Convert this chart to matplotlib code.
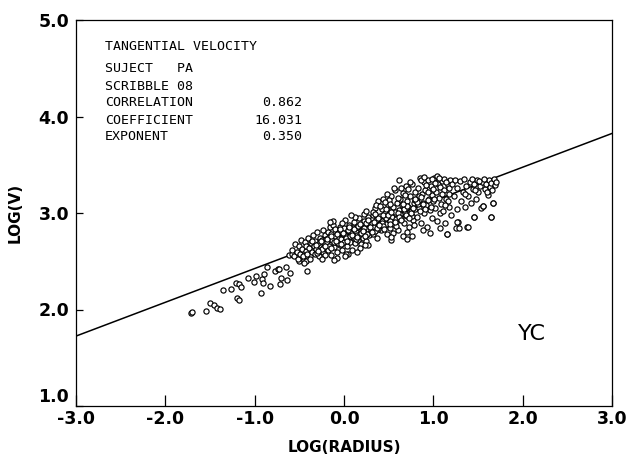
import matplotlib
matplotlib.use("Agg")
import matplotlib.pyplot as plt
import numpy as np

# ---- data ----
sparse_x = [-1.71, -1.70, -1.54, -1.50, -1.45, -1.42, -1.39, -1.36, -1.27, -1.21,
            -1.18, -1.15, -1.20, -1.18, -1.07, -1.01, -0.98, -0.92, -0.89, -0.86,
            -0.91, -0.93, -0.83, -0.77, -0.74, -0.73, -0.72, -0.70, -0.65, -0.64,
            -0.62, -0.61, -0.58, -0.51, -0.50, -0.49, -0.45, -0.41, -0.43, -0.38]
sparse_y = [1.96, 1.97, 1.98, 2.07, 2.05, 2.02, 2.01, 2.20, 2.21, 2.27,
            2.26, 2.23, 2.12, 2.10, 2.33, 2.28, 2.35, 2.32, 2.37, 2.44,
            2.27, 2.17, 2.24, 2.40, 2.42, 2.42, 2.26, 2.33, 2.44, 2.31,
            2.56, 2.38, 2.58, 2.55, 2.50, 2.58, 2.51, 2.40, 2.50, 2.55]

cluster_x = [
    -0.58, -0.56, -0.55, -0.53, -0.52, -0.50, -0.49, -0.48, -0.47, -0.46,
    -0.45, -0.44, -0.43, -0.42, -0.41, -0.40, -0.39, -0.38, -0.37, -0.36,
    -0.35, -0.34, -0.33, -0.32, -0.31, -0.30, -0.29, -0.28, -0.27, -0.26,
    -0.25, -0.24, -0.23, -0.22, -0.21, -0.21, -0.20, -0.24, -0.30, -0.36,
    -0.19, -0.18, -0.18, -0.17, -0.16, -0.15, -0.15, -0.14, -0.13, -0.12,
    -0.11, -0.10, -0.10, -0.09, -0.08, -0.07, -0.06, -0.05, -0.05, -0.04,
    -0.03, -0.02, -0.01, 0.00, 0.00, 0.01, 0.02, 0.03, 0.04, 0.05,
    0.06, 0.07, 0.08, 0.09, 0.10, 0.10, 0.11, 0.12, 0.13, 0.14,
    0.15, 0.16, 0.17, 0.18, 0.19, 0.20, 0.20, 0.21, 0.22, 0.23,
    0.24, 0.25, 0.26, 0.27, 0.28, 0.29, 0.30, 0.05, -0.08, 0.18,
    0.12, -0.02, 0.08, 0.22, 0.27, -0.12, 0.15, 0.02, -0.16, 0.25,
    0.31, 0.32, 0.33, 0.34, 0.35, 0.36, 0.37, 0.38, 0.39, 0.40,
    0.41, 0.42, 0.43, 0.44, 0.45, 0.46, 0.47, 0.48, 0.49, 0.50,
    0.51, 0.52, 0.53, 0.54, 0.55, 0.56, 0.57, 0.58, 0.59, 0.60,
    0.61, 0.62, 0.63, 0.64, 0.65, 0.66, 0.67, 0.68, 0.69, 0.70,
    0.71, 0.72, 0.73, 0.74, 0.75, 0.76, 0.77, 0.78, 0.79, 0.80,
    0.33, 0.38, 0.44, 0.48, 0.55, 0.60, 0.66, 0.72, 0.78, 0.53,
    0.36, 0.42, 0.50, 0.58, 0.64, 0.70, 0.76, 0.62, 0.46, 0.68,
    0.35, 0.40, 0.47, 0.52, 0.57, 0.63, 0.69, 0.74, 0.79, 0.56,
    0.81, 0.82, 0.83, 0.84, 0.85, 0.86, 0.87, 0.88, 0.89, 0.90,
    0.91, 0.92, 0.93, 0.94, 0.95, 0.96, 0.97, 0.98, 0.99, 1.00,
    1.01, 1.02, 1.03, 1.04, 1.05, 1.06, 1.07, 1.08, 1.09, 1.10,
    1.11, 1.12, 1.13, 1.14, 1.15, 1.16, 1.17, 1.18, 1.19, 1.20,
    0.84, 0.88, 0.92, 0.96, 1.00, 1.04, 1.08, 1.12, 1.16, 0.86,
    0.90, 0.94, 0.98, 1.02, 1.06, 1.10, 1.14, 1.18, 0.83, 1.13,
    1.21, 1.23, 1.24, 1.26, 1.27, 1.28, 1.30, 1.31, 1.33, 1.34,
    1.35, 1.37, 1.38, 1.39, 1.41, 1.42, 1.44, 1.45, 1.46, 1.48,
    1.49, 1.50, 1.52, 1.53, 1.55, 1.56, 1.58, 1.59, 1.61, 1.62,
    1.63, 1.64, 1.65, 1.66, 1.67, 1.68, 1.69, 1.70, 1.25, 1.36,
    1.43, 1.51, 1.57, 1.60, 1.47, 1.15, 1.27, 1.29, 1.39, 1.45,
    1.64, 1.56, 1.67, 0.53, 0.70, 0.76, 0.24, 0.01, -0.11, -0.25]
cluster_y = [
    2.62, 2.55, 2.68, 2.60, 2.52, 2.66, 2.58, 2.72, 2.63, 2.55,
    2.48, 2.70, 2.61, 2.66, 2.57, 2.74, 2.64, 2.52, 2.69, 2.60,
    2.77, 2.66, 2.58, 2.71, 2.63, 2.80, 2.68, 2.55, 2.74, 2.65,
    2.72, 2.82, 2.60, 2.69, 2.77, 2.56, 2.73, 2.64, 2.59, 2.71,
    2.70, 2.80, 2.62, 2.75, 2.85, 2.68, 2.56, 2.78, 2.72, 2.88,
    2.65, 2.76, 2.83, 2.70, 2.60, 2.79, 2.74, 2.86, 2.67, 2.81,
    2.73, 2.62, 2.78, 2.84, 2.70, 2.93, 2.76, 2.66, 2.81, 2.74,
    2.88, 2.70, 2.79, 2.62, 2.84, 2.75, 2.91, 2.69, 2.80, 2.77,
    2.85, 2.72, 2.95, 2.78, 2.68, 2.82, 2.88, 2.74, 2.92, 2.80,
    2.86, 2.71, 2.83, 2.96, 2.77, 2.89, 2.82, 2.57, 2.53, 2.64,
    2.96, 2.90, 2.98, 2.99, 2.67, 2.92, 2.60, 2.58, 2.91, 3.02,
    2.90, 2.78, 2.98, 2.85, 3.05, 2.93, 2.74, 3.12, 2.88, 2.97,
    2.82, 3.04, 2.92, 3.15, 2.86, 3.00, 2.95, 2.78, 3.08, 2.91,
    3.02, 2.84, 3.18, 2.96, 3.06, 2.89, 3.24, 2.99, 3.10, 2.93,
    2.82, 3.03, 3.14, 2.95, 3.08, 3.21, 2.90, 3.00, 3.28, 3.12,
    2.97, 3.06, 2.86, 3.18, 3.02, 3.30, 2.93, 3.10, 3.22, 3.04,
    3.01, 2.83, 2.98, 3.20, 2.79, 3.16, 2.76, 3.25, 2.88, 2.72,
    3.08, 2.88, 3.13, 2.87, 3.26, 2.80, 2.97, 3.34, 3.11, 3.19,
    2.81, 3.07, 2.89, 3.09, 3.01, 2.99, 3.05, 3.32, 3.13, 3.26,
    3.15, 2.96, 3.26, 3.05, 3.36, 2.90, 3.20, 3.10, 3.32, 3.00,
    3.24, 3.08, 2.86, 3.34, 3.14, 3.03, 3.28, 2.95, 3.19, 3.12,
    3.36, 3.05, 3.22, 2.92, 3.30, 3.16, 3.00, 3.27, 3.09, 3.33,
    3.02, 3.24, 2.90, 3.14, 2.78, 3.29, 3.06, 3.20, 3.34, 2.98,
    3.18, 2.82, 3.29, 2.79, 3.25, 3.38, 2.84, 3.35, 3.12, 3.34,
    3.37, 3.22, 3.35, 3.31, 3.36, 3.20, 3.32, 3.26, 3.09, 3.08,
    3.30, 3.18, 3.34, 3.04, 3.26, 2.91, 3.33, 3.12, 3.22, 3.35,
    3.06, 3.28, 2.85, 3.18, 3.32, 3.10, 3.25, 2.96, 3.30, 3.14,
    3.34, 3.22, 3.28, 3.05, 3.32, 3.07, 3.25, 3.30, 3.19, 3.34,
    3.27, 2.96, 3.31, 3.24, 3.10, 3.35, 3.29, 3.32, 2.84, 3.20,
    3.35, 3.33, 3.35, 3.22, 3.24, 2.78, 2.91, 2.84, 2.85, 2.96,
    2.96, 3.07, 3.10, 2.75, 2.73, 2.76, 2.67, 2.55, 2.51, 2.52]

core_x = [
    -0.31, -0.26, -0.25, -0.19, -0.17, -0.14, -0.11, -0.08, -0.07, -0.01,
    0.02, 0.04, 0.07, 0.11, 0.13, 0.16, 0.19, 0.22, 0.25, 0.26,
    0.29, 0.34, 0.37, 0.38, 0.43, 0.44, 0.49, 0.52, 0.53, 0.58,
    0.61, 0.62, 0.67, 0.69, 0.71, 0.75, 0.77, 0.82, 0.85, 0.88,
    0.91, 0.94, 0.97, 1.01, -0.29, -0.21, -0.15, -0.09, -0.03, 0.03,
    0.09, 0.15, 0.21, 0.24, 0.31, 0.39, 0.45, 0.51, 0.57, 0.64,
    0.66, 0.73, 0.79, 0.86, 0.47, 0.35, 0.27, 0.18, 0.06, -0.05]
core_y = [
    2.67, 2.71, 2.63, 2.73, 2.66, 2.76, 2.70, 2.78, 2.69, 2.79,
    2.74, 2.82, 2.76, 2.83, 2.73, 2.87, 2.79, 2.84, 2.90, 2.78,
    2.86, 2.91, 2.84, 2.95, 2.90, 2.87, 2.98, 2.92, 3.01, 2.94,
    3.00, 2.96, 3.04, 2.98, 3.07, 3.00, 3.05, 3.11, 3.02, 3.09,
    3.04, 3.13, 3.06, 3.15, 2.61, 2.66, 2.64, 2.71, 2.68, 2.71,
    2.77, 2.75, 2.81, 2.76, 2.80, 2.88, 2.83, 2.89, 2.91, 2.93,
    3.09, 2.95, 3.14, 3.17, 3.04, 2.99, 2.93, 2.89, 2.85, 2.83]

coefficient = 16.031
exponent = 0.350
correlation = 0.862
line_x = [-3.0, 3.0]

x_ticks = [-3.0, -2.0, -1.0, 0.0, 1.0, 2.0, 3.0]
y_ticks = [1.0, 2.0, 3.0, 4.0, 5.0]

info_labels = ["SUJECT   PA", "SCRIBBLE 08", "CORRELATION", "COEFFICIENT", "EXPONENT"]
info_values = ["", "", f"{correlation:.3f}", f"{coefficient:.3f}", f"{exponent:.3f}"]

# ---- figure ----
fig = plt.figure(figsize=(6.33, 4.55), dpi=100)
ax = fig.add_axes([76/633, 1 - 406/455, (612 - 76)/633, (406 - 20)/455])

xs = np.array(sparse_x + cluster_x + core_x)
ys = np.array(sparse_y + cluster_y + core_y)
ax.scatter(xs, ys, s=14, facecolors='white', edgecolors='black', linewidths=0.85, zorder=3)

lx = np.array(line_x)
ax.plot(lx, np.log(coefficient) + exponent * lx, color='black', lw=1.1, zorder=2)

ax.set_xlim(-3, 3)
ax.set_ylim(1, 5)
ax.set_xticks(x_ticks)
ax.set_yticks(y_ticks)
ax.set_xticklabels([f"{t:.1f}" for t in x_ticks])
ax.set_yticklabels([f"{t:.1f}" for t in y_ticks])
ax.tick_params(axis='y', direction='in', length=5, width=0.9, labelsize=12.5, pad=5)
ax.tick_params(axis='x', direction='in', length=8, width=0.9, labelsize=12.5, pad=3)
for lab in ax.get_xticklabels() + ax.get_yticklabels():
    lab.set_fontweight('bold')
    lab.set_family('DejaVu Sans')
# lowest y label sits just above the x axis line, as in the reference
ax.get_yticklabels()[0].set_verticalalignment('bottom')
for sp in ax.spines.values():
    sp.set_linewidth(0.9)

ax.set_xlabel("LOG(RADIUS)", fontsize=11, fontweight='bold')
ax.xaxis.set_label_coords(0.5, -0.088)
ax.set_ylabel("LOG(V)", fontsize=11, fontweight='bold')
ax.yaxis.set_label_coords(-0.10, 0.5)

mono = 'DejaVu Sans Mono'
ax.text(105/633, 1 - 47/455, "TANGENTIAL VELOCITY", transform=fig.transFigure,
        family=mono, fontsize=9.5, va='center', ha='left')
for i, (lab, val) in enumerate(zip(info_labels, info_values)):
    yy = 1 - (69 + i * 17) / 455
    ax.text(105/633, yy, lab, transform=fig.transFigure, family=mono,
            fontsize=9.5, va='center', ha='left')
    if val:
        ax.text(302/633, yy, val, transform=fig.transFigure, family=mono,
                fontsize=9.5, va='center', ha='right')

ax.text(1.95, 1.75, "YC", family=['Liberation Sans Narrow', 'DejaVu Sans'],
        fontsize=16, ha='left', va='center')

fig.savefig("out.png", dpi=100)
